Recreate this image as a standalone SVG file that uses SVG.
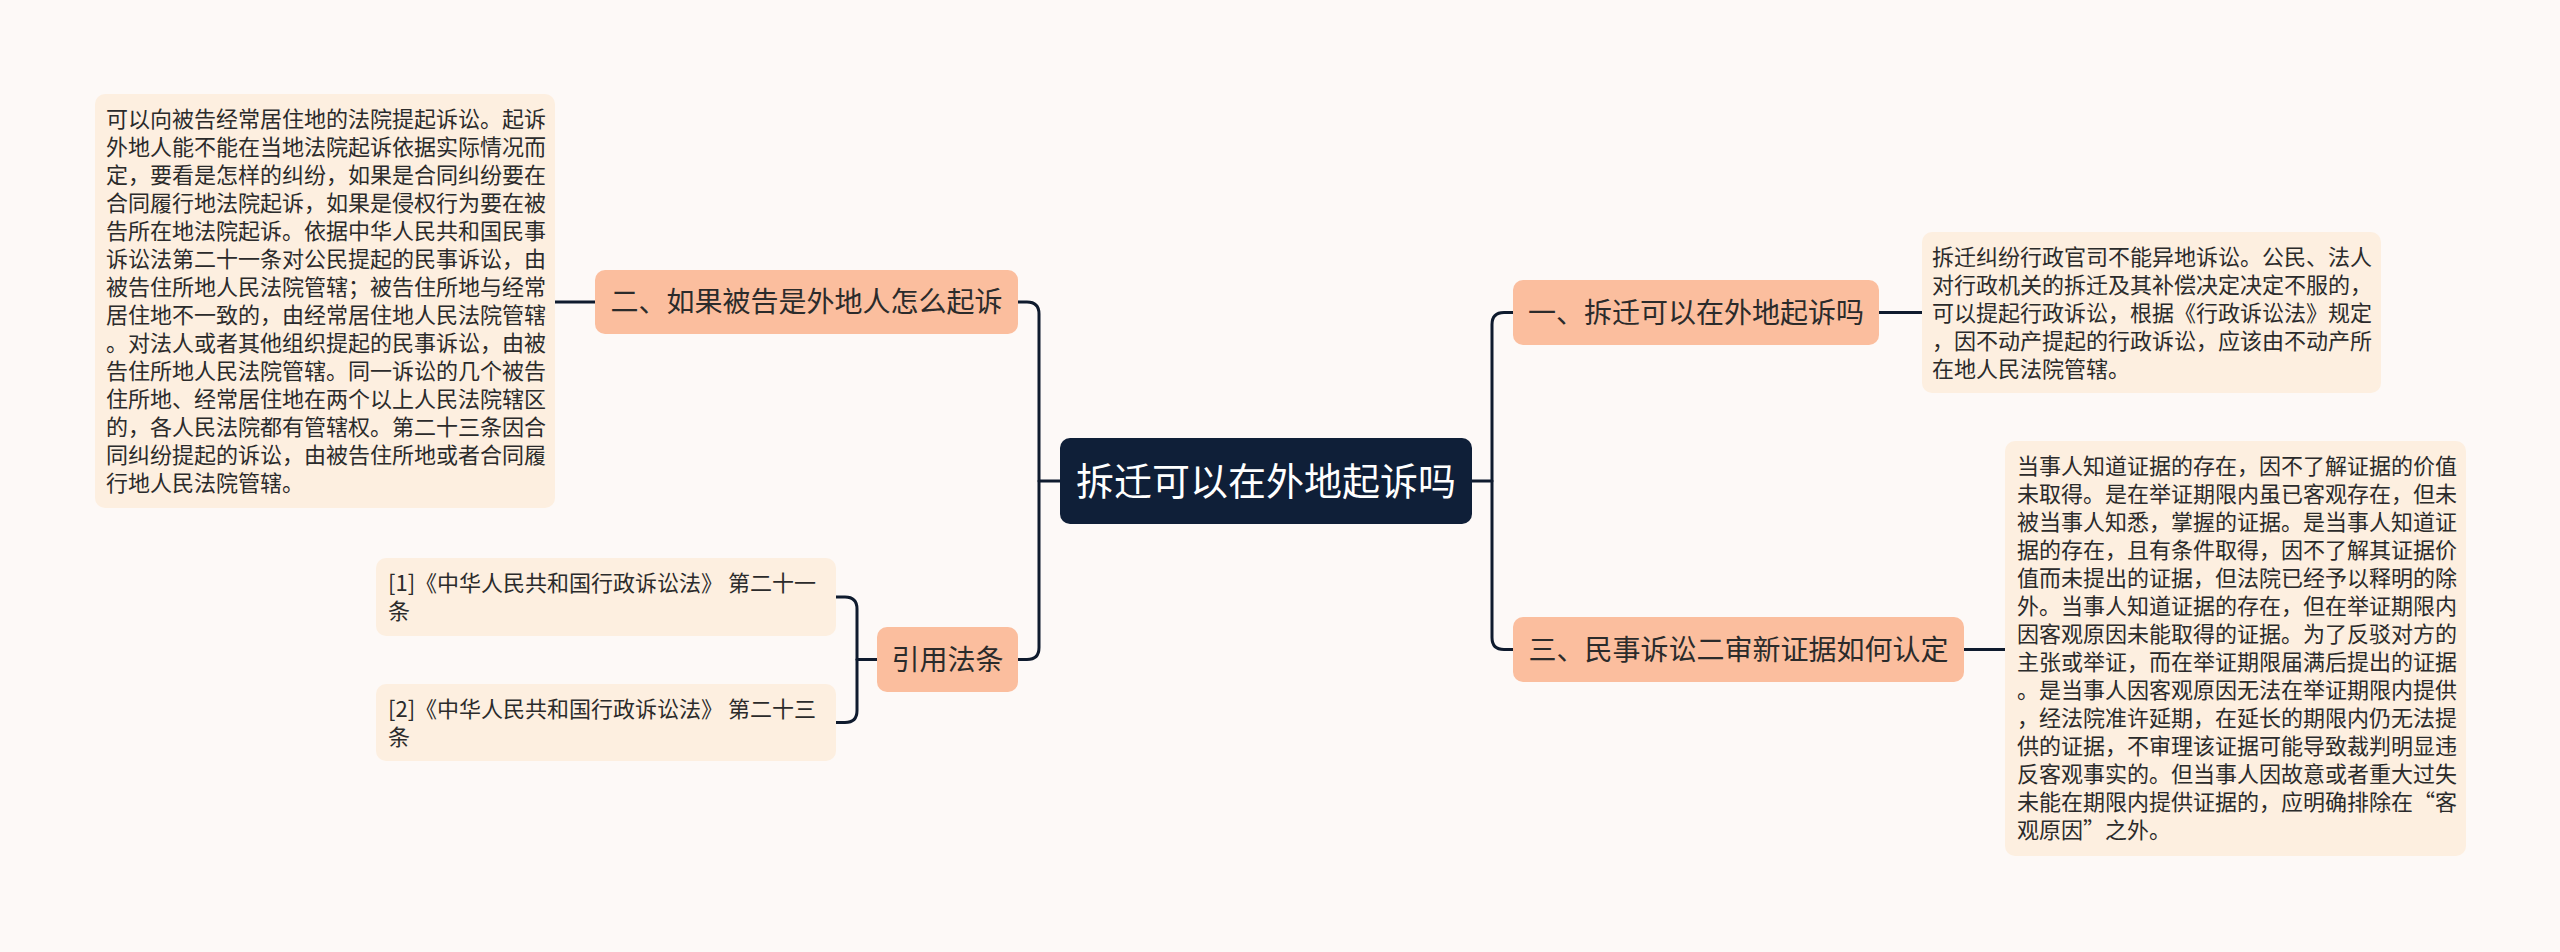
<svg xmlns="http://www.w3.org/2000/svg" width="2560" height="952" viewBox="0 0 2560 952">
<style>
.bg{fill:#fdf9f7}
.topic{fill:#fbbe9e}
.leaf{fill:#fdefe0}
.root{fill:#0f1f38}
.t{font-family:"Noto Sans CJK SC","Noto Sans",sans-serif;fill:#2b2b2b}
.tt{font-size:28px;text-anchor:middle}
.lt{font-size:22px}
.rt{font-family:"Noto Sans CJK SC","Noto Sans",sans-serif;font-size:38px;fill:#ffffff;text-anchor:middle}
.c{fill:none;stroke:#0f1b2e;stroke-width:3;stroke-linecap:round;stroke-linejoin:round}
</style>
<rect class="bg" x="0" y="0" width="2560" height="952"/>
<g id="connectors">
<path class="c" d="M1472,481 H1492"/>
<path class="c" d="M1513,312.5 H1504 Q1492,312.5 1492,324.5 V637.5 Q1492,649.5 1504,649.5 H1513"/>
<path class="c" d="M1060,481 H1039"/>
<path class="c" d="M1018,302 H1027 Q1039,302 1039,314 V647.5 Q1039,659.5 1027,659.5 H1018"/>
<path class="c" d="M595,302 H555"/>
<path class="c" d="M1879,312.5 H1922"/>
<path class="c" d="M1964,649.5 H2005"/>
<path class="c" d="M877,659.5 H857"/>
<path class="c" d="M836,597 H845 Q857,597 857,609 V710.5 Q857,722.5 845,722.5 H836"/>
</g>
<g id="root">
<rect class="root" x="1060" y="438" width="412" height="86" rx="10"/>
<text class="rt" x="1266" y="495">拆迁可以在外地起诉吗</text>
</g>
<g id="topic1">
<rect class="topic" x="1513" y="280" width="366" height="65" rx="10"/>
<text class="t tt" x="1696" y="322.5">一、拆迁可以在外地起诉吗</text>
</g>
<g id="topic3">
<rect class="topic" x="1513" y="617" width="451" height="65" rx="10"/>
<text class="t tt" x="1738.5" y="659.5">三、民事诉讼二审新证据如何认定</text>
</g>
<g id="topic2">
<rect class="topic" x="595" y="270" width="423" height="64" rx="10"/>
<text class="t tt" x="806.5" y="312">二、如果被告是外地人怎么起诉</text>
</g>
<g id="topic4">
<rect class="topic" x="877" y="627" width="141" height="65" rx="10"/>
<text class="t tt" x="947.5" y="669.5">引用法条</text>
</g>
<g id="leaf-left">
<rect class="leaf" x="95" y="94" width="460" height="414" rx="10"/>
<text class="t lt">
<tspan x="106" y="127.4">可以向被告经常居住地的法院提起诉讼。起诉</tspan>
<tspan x="106" y="155.4">外地人能不能在当地法院起诉依据实际情况而</tspan>
<tspan x="106" y="183.4">定，要看是怎样的纠纷，如果是合同纠纷要在</tspan>
<tspan x="106" y="211.4">合同履行地法院起诉，如果是侵权行为要在被</tspan>
<tspan x="106" y="239.4">告所在地法院起诉。依据中华人民共和国民事</tspan>
<tspan x="106" y="267.4">诉讼法第二十一条对公民提起的民事诉讼，由</tspan>
<tspan x="106" y="295.4">被告住所地人民法院管辖；被告住所地与经常</tspan>
<tspan x="106" y="323.4">居住地不一致的，由经常居住地人民法院管辖</tspan>
<tspan x="106" y="351.4">。对法人或者其他组织提起的民事诉讼，由被</tspan>
<tspan x="106" y="379.4">告住所地人民法院管辖。同一诉讼的几个被告</tspan>
<tspan x="106" y="407.4">住所地、经常居住地在两个以上人民法院辖区</tspan>
<tspan x="106" y="435.4">的，各人民法院都有管辖权。第二十三条因合</tspan>
<tspan x="106" y="463.4">同纠纷提起的诉讼，由被告住所地或者合同履</tspan>
<tspan x="106" y="491.4">行地人民法院管辖。</tspan>
</text>
</g>
<g id="leaf-ref1">
<rect class="leaf" x="376" y="558" width="460" height="78" rx="10"/>
<text class="t lt">
<tspan x="388" y="591.4">[1]《中华人民共和国行政诉讼法》 第二十一</tspan>
<tspan x="388" y="619.4">条</tspan>
</text>
</g>
<g id="leaf-ref2">
<rect class="leaf" x="376" y="684" width="460" height="77" rx="10"/>
<text class="t lt">
<tspan x="388" y="717.4">[2]《中华人民共和国行政诉讼法》 第二十三</tspan>
<tspan x="388" y="745.4">条</tspan>
</text>
</g>
<g id="leaf-right1">
<rect class="leaf" x="1922" y="232" width="459" height="161" rx="10"/>
<text class="t lt">
<tspan x="1932" y="265.4">拆迁纠纷行政官司不能异地诉讼。公民、法人</tspan>
<tspan x="1932" y="293.4">对行政机关的拆迁及其补偿决定决定不服的，</tspan>
<tspan x="1932" y="321.4">可以提起行政诉讼，根据《行政诉讼法》规定</tspan>
<tspan x="1932" y="349.4">，因不动产提起的行政诉讼，应该由不动产所</tspan>
<tspan x="1932" y="377.4">在地人民法院管辖。</tspan>
</text>
</g>
<g id="leaf-right2">
<rect class="leaf" x="2005" y="441" width="461" height="415" rx="10"/>
<text class="t lt">
<tspan x="2017" y="474.4">当事人知道证据的存在，因不了解证据的价值</tspan>
<tspan x="2017" y="502.4">未取得。是在举证期限内虽已客观存在，但未</tspan>
<tspan x="2017" y="530.4">被当事人知悉，掌握的证据。是当事人知道证</tspan>
<tspan x="2017" y="558.4">据的存在，且有条件取得，因不了解其证据价</tspan>
<tspan x="2017" y="586.4">值而未提出的证据，但法院已经予以释明的除</tspan>
<tspan x="2017" y="614.4">外。当事人知道证据的存在，但在举证期限内</tspan>
<tspan x="2017" y="642.4">因客观原因未能取得的证据。为了反驳对方的</tspan>
<tspan x="2017" y="670.4">主张或举证，而在举证期限届满后提出的证据</tspan>
<tspan x="2017" y="698.4">。是当事人因客观原因无法在举证期限内提供</tspan>
<tspan x="2017" y="726.4">，经法院准许延期，在延长的期限内仍无法提</tspan>
<tspan x="2017" y="754.4">供的证据，不审理该证据可能导致裁判明显违</tspan>
<tspan x="2017" y="782.4">反客观事实的。但当事人因故意或者重大过失</tspan>
<tspan x="2017" y="810.4">未能在期限内提供证据的，应明确排除在“客</tspan>
<tspan x="2017" y="838.4">观原因”之外。</tspan>
</text>
</g>
</svg>
